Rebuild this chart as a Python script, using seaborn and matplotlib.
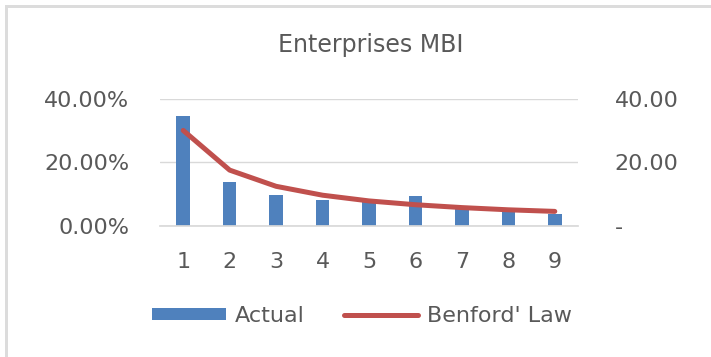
import matplotlib
matplotlib.use("Agg")
import matplotlib.pyplot as plt
from matplotlib.patches import Patch, Rectangle
from matplotlib.lines import Line2D
from matplotlib.ticker import FuncFormatter
import seaborn as sns
import pandas as pd

# First-digit distribution of enterprise values
digits = ["1", "2", "3", "4", "5", "6", "7", "8", "9"]
actual_pct = [34.7, 13.8, 9.9, 8.2, 8.5, 9.4, 6.0, 4.6, 3.8]
benford_law = [30.1, 17.6, 12.5, 9.7, 7.9, 6.7, 5.8, 5.1, 4.6]
title = "Enterprises MBI"
left_ticks = [0, 20, 40]
right_ticks = [0, 20, 40]

df = pd.DataFrame({"digit": digits, "actual": actual_pct, "benford": benford_law})

sns.set_theme(style="white")
plt.rcParams["font.family"] = ["DejaVu Sans"]

TEXT = "#595959"
BLUE = "#4f81bd"
RED = "#c0504d"
GRID = "#d9d9d9"

fig = plt.figure(figsize=(7.11, 3.57), dpi=100)
ax = fig.add_axes([160 / 711, 1 - 226 / 357, 418 / 711, 127 / 357])

sns.barplot(data=df, x="digit", y="actual", color=BLUE, width=0.29,
            saturation=1, linewidth=0, edgecolor=BLUE, ax=ax, zorder=2)
ax.set_xlim(-0.5, len(digits) - 0.5)
ax.set_ylim(0, 40)
ax.set_yticks(left_ticks)
ax.yaxis.set_major_formatter(FuncFormatter(lambda v, p: f"{v:.2f}%"))
ax.grid(axis="y", color=GRID, linewidth=1, zorder=0)
ax.set_axisbelow(True)
for s in ["top", "right", "left"]:
    ax.spines[s].set_visible(False)
ax.spines["bottom"].set_color(GRID)
ax.set_xlabel("")
ax.set_ylabel("")
ax.tick_params(axis="both", length=0, labelsize=16, colors=TEXT)
ax.tick_params(axis="x", pad=18.5)
ax.tick_params(axis="y", pad=22)

ax2 = ax.twinx()
sns.lineplot(data=df, x="digit", y="benford", color=RED, linewidth=3.6,
             ax=ax2, sort=False, solid_capstyle="round", zorder=3)
ax2.set_ylim(0, 40)
ax2.set_yticks(right_ticks)
ax2.yaxis.set_major_formatter(FuncFormatter(lambda v, p: "-" if v == 0 else f"{v:.2f}"))
for s in ax2.spines.values():
    s.set_visible(False)
ax2.set_ylabel("")
ax2.tick_params(axis="y", length=0, labelsize=16, colors=TEXT, pad=26.5)
for lbl in ax2.get_yticklabels():
    lbl.set_horizontalalignment("left")

fig.text(371 / 711, 1 - 52 / 357, title, ha="center", va="baseline",
         fontsize=17, color=TEXT)

handles = [Patch(facecolor=BLUE, edgecolor="none"),
           Line2D([0], [0], color=RED, linewidth=3.6, solid_capstyle="round")]
fig.legend(handles, ["Actual", "Benford' Law"], loc="center",
           bbox_to_anchor=(362 / 711, 1 - 316 / 357), ncol=2, frameon=False,
           fontsize=16, labelcolor=TEXT, handlelength=3.3, handleheight=0.5,
           handletextpad=0.4, columnspacing=1.8)

# chart frame edges
fig.add_artist(Rectangle((5 / 711, -0.1), 2.5 / 711, 1.1 - 5 / 357,
                         transform=fig.transFigure, color="#dcdcdc", lw=0))
fig.add_artist(Rectangle((5 / 711, 1 - 7.5 / 357), 1, 2.5 / 357,
                         transform=fig.transFigure, color="#dcdcdc", lw=0))

fig.savefig("out.png", dpi=100, facecolor="white")
